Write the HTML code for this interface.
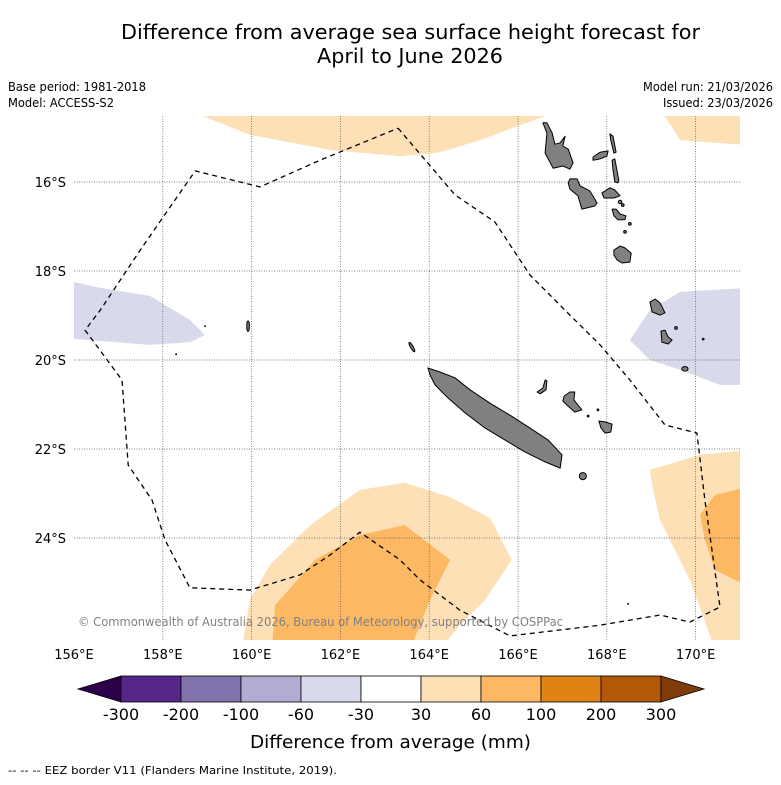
<!DOCTYPE html>
<html><head><meta charset="utf-8"><style>
body{margin:0;background:#fff;width:781px;height:781px;overflow:hidden;font-family:"DejaVu Sans",sans-serif;}
</style></head><body>
<svg id="chart" width="781" height="781" xmlns="http://www.w3.org/2000/svg" font-family="DejaVu Sans, Liberation Sans, sans-serif">
<text x="121" y="39" font-size="20" textLength="579" lengthAdjust="spacingAndGlyphs">Difference from average sea surface height forecast for</text>
<text x="317" y="63" font-size="20" textLength="186" lengthAdjust="spacingAndGlyphs">April to June 2026</text>
<text x="8" y="91" font-size="12" textLength="138" lengthAdjust="spacingAndGlyphs">Base period: 1981-2018</text>
<text x="8" y="107" font-size="12" textLength="106" lengthAdjust="spacingAndGlyphs">Model: ACCESS-S2</text>
<text x="643" y="91" font-size="12" textLength="130" lengthAdjust="spacingAndGlyphs">Model run: 21/03/2026</text>
<text x="663" y="107" font-size="12" textLength="110" lengthAdjust="spacingAndGlyphs">Issued: 23/03/2026</text>
<defs><clipPath id="mapclip"><rect x="74" y="116" width="666" height="524"/></clipPath></defs>
<g id="map" clip-path="url(#mapclip)"></g>
<g id="axes"></g>
<text x="78" y="626" font-size="12" fill="#808080" textLength="485" lengthAdjust="spacingAndGlyphs">© Commonwealth of Australia 2026, Bureau of Meteorology, supported by COSPPac</text>
<g id="colorbar"></g>
<text x="250" y="748" font-size="18" textLength="281" lengthAdjust="spacingAndGlyphs">Difference from average (mm)</text>
<text x="8" y="774" font-size="11" textLength="329" lengthAdjust="spacingAndGlyphs">--  --  -- EEZ border V11 (Flanders Marine Institute, 2019).</text>
</svg>
<script>
const lonTicks=[156,158,160,162,164,166,168,170];
const latTicks=[16,18,20,22,24];
const cbBounds=[-300,-200,-100,-60,-30,30,60,100,200,300];
const cbColors=["#542788","#8073ac","#b2abd2","#d8daeb","#ffffff","#fee0b6","#fdb863","#e08214","#b35806"];
const cbLow="#2d004b", cbHigh="#7f3b08";
const regTop=[[158.9,14.4],[158.9,14.52],[159.96,14.94],[161.77,15.28],[163.34,15.42],[164.24,15.33],[165.14,15.06],[166.05,14.72],[166.61,14.52],[166.61,14.4]];
const regTopRight=[[169.31,14.4],[169.31,14.52],[169.65,15.06],[171.2,15.17],[171.2,14.4]];
const regLeft=[[155.8,18.2],[156.59,18.38],[157.71,18.56],[158.61,19.1],[158.95,19.44],[158.61,19.6],[157.71,19.66],[155.8,19.51]];
const regRight=[[168.52,19.55],[168.97,18.88],[169.65,18.47],[171.2,18.38],[171.2,20.56],[170.55,20.56],[169.65,20.22],[168.97,20.0]];
const regBottom=[[159.78,26.5],[159.96,25.39],[160.41,24.61],[161.32,23.71],[162.44,22.92],[163.45,22.76],[164.47,23.08],[165.37,23.55],[165.86,24.49],[165.26,25.39],[164.69,25.96],[164.24,26.5]];
const regBottomDark=[[160.46,26.5],[160.53,25.51],[161.43,24.49],[162.44,23.93],[163.45,23.71],[164.47,24.49],[164.02,25.39],[163.57,26.5]];
const regBR=[[168.97,22.47],[170.1,22.13],[171.2,22.02],[171.2,26.5],[170.44,26.5],[169.87,24.94],[169.2,23.6],[169.04,22.92]];
const regBRDark=[[170.1,23.48],[170.44,23.03],[171.2,22.85],[171.2,25.1],[170.44,24.72],[170.21,24.04]];
const eez=[[163.3,14.79],[164.58,16.29],[165.48,16.9],[166.27,18.09],[167.17,18.99],[167.85,19.66],[168.52,20.45],[169.31,21.46],[170.03,21.64],[170.21,23.15],[170.55,25.55],[169.87,25.89],[169.2,25.73],[167.85,25.96],[165.82,26.2],[164.69,25.62],[163.79,24.94],[163.34,24.49],[162.44,23.87],[161.77,24.38],[161.09,24.83],[159.96,25.17],[158.61,25.12],[158.05,24.04],[157.76,23.15],[157.22,22.36],[157.08,20.45],[156.25,19.33],[156.59,18.88],[157.49,17.53],[158.73,15.75],[160.19,16.11],[161.54,15.51],[163.3,14.79]];
const islandPolys=[
[[163.97,20.18],[164.24,20.27],[164.58,20.4],[164.92,20.67],[165.37,20.97],[165.82,21.24],[166.27,21.53],[166.68,21.8],[166.99,22.13],[166.95,22.43],[166.61,22.29],[166.16,22.07],[165.71,21.8],[165.26,21.53],[164.81,21.19],[164.42,20.85],[164.13,20.56],[164.02,20.34]],
[[166.56,14.67],[166.65,14.9],[166.61,15.35],[166.79,15.69],[167.01,15.64],[167.17,15.71],[167.24,15.57],[167.13,15.26],[167.01,15.19],[167.06,14.97],[166.95,15.12],[166.83,15.15],[166.77,14.9],[166.65,14.67]],
[[167.17,15.93],[167.33,15.93],[167.4,16.09],[167.62,16.2],[167.78,16.47],[167.73,16.54],[167.44,16.61],[167.35,16.31],[167.17,16.16],[167.13,16.02]],
[[167.69,15.44],[167.85,15.33],[168.03,15.3],[168.0,15.42],[167.85,15.48],[167.69,15.51]],
[[168.07,14.92],[168.14,14.97],[168.21,15.33],[168.16,15.35],[168.09,15.06]],
[[168.12,15.51],[168.18,15.48],[168.27,15.96],[168.25,16.02],[168.18,16.0],[168.14,15.73]],
[[167.89,16.25],[168.07,16.13],[168.18,16.18],[168.3,16.31],[168.16,16.36],[167.94,16.36]],
[[168.12,16.61],[168.21,16.61],[168.3,16.72],[168.43,16.76],[168.41,16.85],[168.25,16.85],[168.16,16.76]],
[[168.16,17.53],[168.3,17.44],[168.41,17.48],[168.55,17.6],[168.52,17.8],[168.34,17.82],[168.23,17.75],[168.16,17.64]],
[[168.97,18.7],[169.09,18.63],[169.2,18.72],[169.31,18.94],[169.2,18.99],[169.02,18.92]],
[[169.22,19.35],[169.31,19.33],[169.38,19.48],[169.47,19.55],[169.38,19.64],[169.24,19.6]],
[[166.43,20.72],[166.56,20.63],[166.61,20.45],[166.65,20.47],[166.63,20.67],[166.5,20.76]],
[[167.04,20.81],[167.17,20.72],[167.28,20.72],[167.26,20.9],[167.35,21.01],[167.44,21.12],[167.28,21.17],[167.1,21.01],[167.01,20.92]],
[[167.82,21.37],[167.96,21.39],[168.12,21.44],[168.09,21.62],[167.96,21.64],[167.87,21.53]]];
// small islands: lon, latS, rx(deg), ry(deg), rotation
const islands=[[167.46,22.61,0.08,0.08,0],[169.76,20.2,0.07,0.05,0],[169.56,19.28,0.03,0.03,0],[170.17,19.53,0.02,0.02,0],[167.58,21.26,0.02,0.02,0],[167.8,21.12,0.02,0.02,0],[168.3,16.45,0.04,0.04,0],[168.36,16.52,0.03,0.03,0],[168.52,16.94,0.03,0.03,0],[168.41,17.12,0.03,0.03,0],[159.92,19.24,0.03,0.12,0],[163.61,19.71,0.03,0.12,-30],[158.3,19.87,0.01,0.01,0],[158.95,19.24,0.01,0.01,0],[168.48,25.48,0.01,0.01,0]];

const NS="http://www.w3.org/2000/svg";
function X(lon){return 74+(lon-156)*44.4;}
function Y(lat){return 182+(lat-16)*44.5;}
function mk(tag,attrs,parent){const e=document.createElementNS(NS,tag);for(const k in attrs)e.setAttribute(k,attrs[k]);parent.appendChild(e);return e;}
function pts(arr){return arr.map(p=>X(p[0]).toFixed(1)+","+Y(p[1]).toFixed(1)).join(" ");}
const map=document.getElementById("map"), axes=document.getElementById("axes"), cb=document.getElementById("colorbar");
function region(arr,fill,name){const p=mk("polygon",{points:pts(arr),fill:fill,stroke:"none"},map);

}
region(regTop,cbColors[5],"contour-top-30-60");
region(regTopRight,cbColors[5],"contour-topright-30-60");
region(regLeft,cbColors[3],"contour-left-neg60-30");
region(regRight,cbColors[3],"contour-right-neg60-30");
region(regBottom,cbColors[5],"contour-bottom-30-60");
region(regBottomDark,cbColors[6],"contour-bottom-60-100");
region(regBR,cbColors[5],"contour-bottomright-30-60");
region(regBRDark,cbColors[6],"contour-bottomright-60-100");
lonTicks.forEach(l=>{if(l>156){const g=mk("line",{x1:X(l),x2:X(l),y1:116,y2:640,stroke:"#555","stroke-width":0.7,"stroke-dasharray":"1,1.5"},map);

}});
latTicks.forEach(l=>{const g=mk("line",{x1:74,x2:740,y1:Y(l),y2:Y(l),stroke:"#555","stroke-width":0.7,"stroke-dasharray":"1,1.5"},map);

});
islandPolys.forEach(poly=>{const p=mk("polygon",{points:pts(poly),fill:"#808080",stroke:"#000","stroke-width":1,"stroke-linejoin":"round"},map);

});
islands.forEach(i=>{const e=mk("ellipse",{cx:X(i[0]),cy:Y(i[1]),rx:i[2]*44.4,ry:i[3]*44.5,fill:"#808080",stroke:"#000","stroke-width":1,transform:`rotate(${i[4]} ${X(i[0])} ${Y(i[1])})`},map);

});
const ez=mk("polyline",{points:pts(eez),fill:"none",stroke:"#000","stroke-width":1.3,"stroke-dasharray":"5,4"},map);


lonTicks.forEach(l=>{const t=mk("text",{x:X(l),y:659,"font-size":13,"text-anchor":"middle"},axes);t.textContent=l+"°E";

});
latTicks.forEach(l=>{const t=mk("text",{x:66,y:Y(l)+5,"font-size":13,"text-anchor":"end"},axes);t.textContent=l+"°S";

});
const cx0=121, cw=60, cy=676, ch=26;
const lt=mk("polygon",{points:`${cx0},${cy} ${cx0},${cy+ch} 78,${cy+ch/2}`,fill:cbLow,stroke:"#000","stroke-width":0.8},cb);


cbColors.forEach((c,i)=>{const r=mk("rect",{x:cx0+i*cw,y:cy,width:cw,height:ch,fill:c,stroke:"#000","stroke-width":0.8},cb);

});
const xe=cx0+cbColors.length*cw;
const rt=mk("polygon",{points:`${xe},${cy} ${xe},${cy+ch} ${xe+43},${cy+ch/2}`,fill:cbHigh,stroke:"#000","stroke-width":0.8},cb);


cbBounds.forEach((b,i)=>{const t=mk("text",{x:cx0+i*cw,y:720,"font-size":16,"text-anchor":"middle"},cb);t.textContent=b;

});
</script>
</body></html>
